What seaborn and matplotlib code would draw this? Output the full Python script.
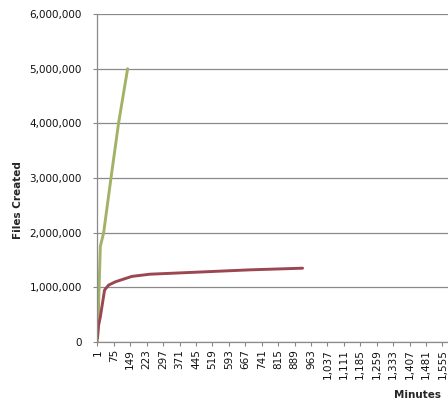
import matplotlib
matplotlib.use("Agg")
import matplotlib.pyplot as plt
import numpy as np
import pandas as pd
import seaborn as sns
from matplotlib.ticker import FuncFormatter

# values (minute, files created)
green_min = [1, 14, 29, 62, 96, 137]
green_val = [0, 1750000, 2000000, 3000000, 4000000, 5000000]

red_min = [1, 6, 14, 33, 51, 81, 156, 237, 463, 688, 925]
red_val = [70000, 300000, 460000, 950000, 1040000, 1100000, 1200000,
           1240000, 1280000, 1320000, 1350000]

orange_min = [1, 4, 7]
orange_val = [100000, 450000, 650000]

x_ticks = list(range(1, 1600, 74))

sns.set_style("white")
plt.rcParams['font.family'] = ['DejaVu Sans']

fig = plt.figure(figsize=(4.48, 4.01), dpi=100)
ax = fig.add_axes([97/448, 59/401, 351/448, 328/401])

df_o = pd.DataFrame({"m": orange_min, "v": orange_val})
df_g = pd.DataFrame({"m": green_min, "v": green_val})
df_r = pd.DataFrame({"m": red_min, "v": red_val})
sns.lineplot(data=df_o, x="m", y="v", ax=ax, color="#E8A040", lw=2.1)
sns.lineplot(data=df_g, x="m", y="v", ax=ax, color="#A2B266", lw=2.1)
sns.lineplot(data=df_r, x="m", y="v", ax=ax, color="#9C4652", lw=2.1)

ax.set_xlim(-1, 1580)
ax.set_ylim(0, 6000000)
ax.set_yticks(np.arange(0, 6000001, 1000000))
ax.set_xticks(x_ticks)
ax.xaxis.set_major_formatter(FuncFormatter(lambda v, p: f"{int(v):,}"))
ax.yaxis.set_major_formatter(FuncFormatter(lambda v, p: f"{int(v):,}"))
ax.tick_params(axis="x", labelrotation=90, labelsize=7.5, length=3, color="#888888",
               labelcolor="#111111", pad=2, bottom=True)
ax.tick_params(axis="y", labelsize=7.5, length=3, color="#888888",
               labelcolor="#111111", pad=8, left=True)
ax.grid(axis="y", color="#8a8a8a", lw=0.9)
ax.grid(axis="x", visible=False)
ax.set_axisbelow(True)
for s in ["top", "right"]:
    ax.spines[s].set_visible(False)
for s in ["left", "bottom"]:
    ax.spines[s].set_color("#8a8a8a")
    ax.spines[s].set_linewidth(0.9)
ax.set_xlabel("")
ax.set_ylabel("")

fig.text(18/448, 0.5, "Files Created", rotation=90, ha="center", va="center",
         fontsize=7.5, fontweight="bold")
fig.text(417/448, 6/401, "Minutes", ha="center", va="center",
         fontsize=7.5, fontweight="bold")

fig.savefig("out.png", dpi=100)
